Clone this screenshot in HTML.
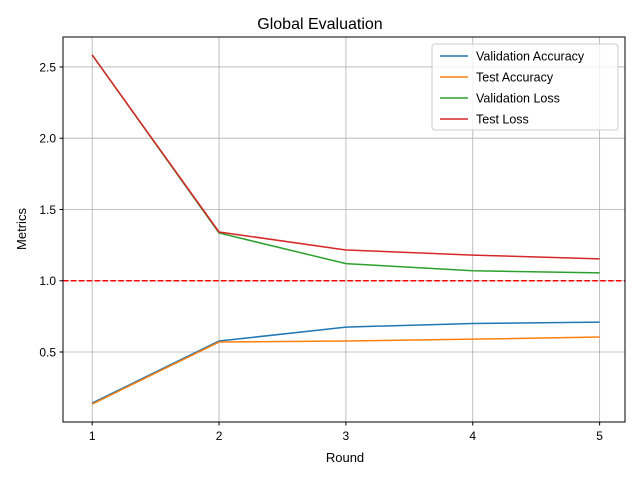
<!DOCTYPE html>
<html><head><meta charset="utf-8"><style>
body{margin:0;background:#fff;}
svg{display:block;font-family:"Liberation Sans","DejaVu Sans",sans-serif;}
</style></head><body>
<svg id="chart" width="640" height="480" viewBox="0 0 640 480" xmlns="http://www.w3.org/2000/svg">
<rect width="640" height="480" fill="#fff"/>
<g id="grid"></g>
<line x1="63" y1="281" x2="625" y2="281" stroke="#ff0000" stroke-width="1.5" stroke-dasharray="5.5,2.4" id="ref"/>
<g id="series"></g>
<rect x="63" y="37" width="562" height="385" fill="none" stroke="#000" stroke-width="1"/>
<g id="ticks"></g>
<text x="320" y="29" font-size="16" text-anchor="middle">Global Evaluation</text>
<text x="345" y="462" font-size="13" text-anchor="middle">Round</text>
<text transform="translate(26,229) rotate(-90)" font-size="13" text-anchor="middle">Metrics</text>
<g id="legend"></g>
</svg>
<script>
const rounds=[1,2,3,4,5];
const seriesNames=["Validation Accuracy","Test Accuracy","Validation Loss","Test Loss"];
const valAcc=[0.142,0.577,0.675,0.70,0.71];
const testAcc=[0.135,0.57,0.577,0.59,0.605];
const valLoss=[2.584,1.335,1.12,1.07,1.055];
const testLoss=[2.584,1.342,1.216,1.18,1.153];
const xTicks=[1,2,3,4,5];
const yTicks=[0.5,1.0,1.5,2.0,2.5];
const refValue=1.0;
const colors=["#1f77b4","#ff7f0e","#2ca02c","#d62728"];
const NS="http://www.w3.org/2000/svg";
const L=63,R=625,T=37,B=422;
const xMin=0.77,xMax=5.2,yMin=0.009,yMax=2.71;
function xs(v){return L+(v-xMin)/(xMax-xMin)*(R-L);}
function ys(v){return B-(v-yMin)/(yMax-yMin)*(B-T);}
function mk(t,a,p){const e=document.createElementNS(NS,t);for(const k in a)e.setAttribute(k,a[k]);p.appendChild(e);return e;}
const grid=document.getElementById('grid'),ticks=document.getElementById('ticks'),ser=document.getElementById('series'),leg=document.getElementById('legend');
const ref=document.getElementById('ref');ref.setAttribute('y1',ys(refValue));ref.setAttribute('y2',ys(refValue));


xTicks.forEach(v=>{const x=xs(v);
const g=mk('line',{x1:x,x2:x,y1:T,y2:B,stroke:'#b0b0b0','stroke-width':0.8},grid);


mk('line',{x1:x,x2:x,y1:B,y2:B+3.5,stroke:'#000'},ticks);
const t=mk('text',{x:x,y:B+18,'font-size':12,'text-anchor':'middle'},ticks);t.textContent=v;

});
yTicks.forEach(v=>{const y=ys(v);
const g=mk('line',{x1:L,x2:R,y1:y,y2:y,stroke:'#b0b0b0','stroke-width':0.8},grid);


mk('line',{x1:L-3.5,x2:L,y1:y,y2:y,stroke:'#000'},ticks);
const t=mk('text',{x:L-7,y:y+4.5,'font-size':12,'text-anchor':'end'},ticks);t.textContent=v.toFixed(1);

});
[valAcc,testAcc,valLoss,testLoss].forEach((d,i)=>{
const p=mk('polyline',{points:d.map((v,j)=>xs(rounds[j])+','+ys(v)).join(' '),fill:'none',stroke:colors[i],'stroke-width':1.5},ser);

});
const box=mk('rect',{x:432,y:44,width:186,height:86,rx:3,fill:'#fff','fill-opacity':0.8,stroke:'#ccc'},leg);


seriesNames.forEach((n,i)=>{const y=56+i*21;
mk('line',{x1:440,x2:468,y1:y,y2:y,stroke:colors[i],'stroke-width':1.5},leg);
const t=mk('text',{x:476,y:y+4.5,'font-size':12.5},leg);t.textContent=n;

});
</script>
</body></html>
